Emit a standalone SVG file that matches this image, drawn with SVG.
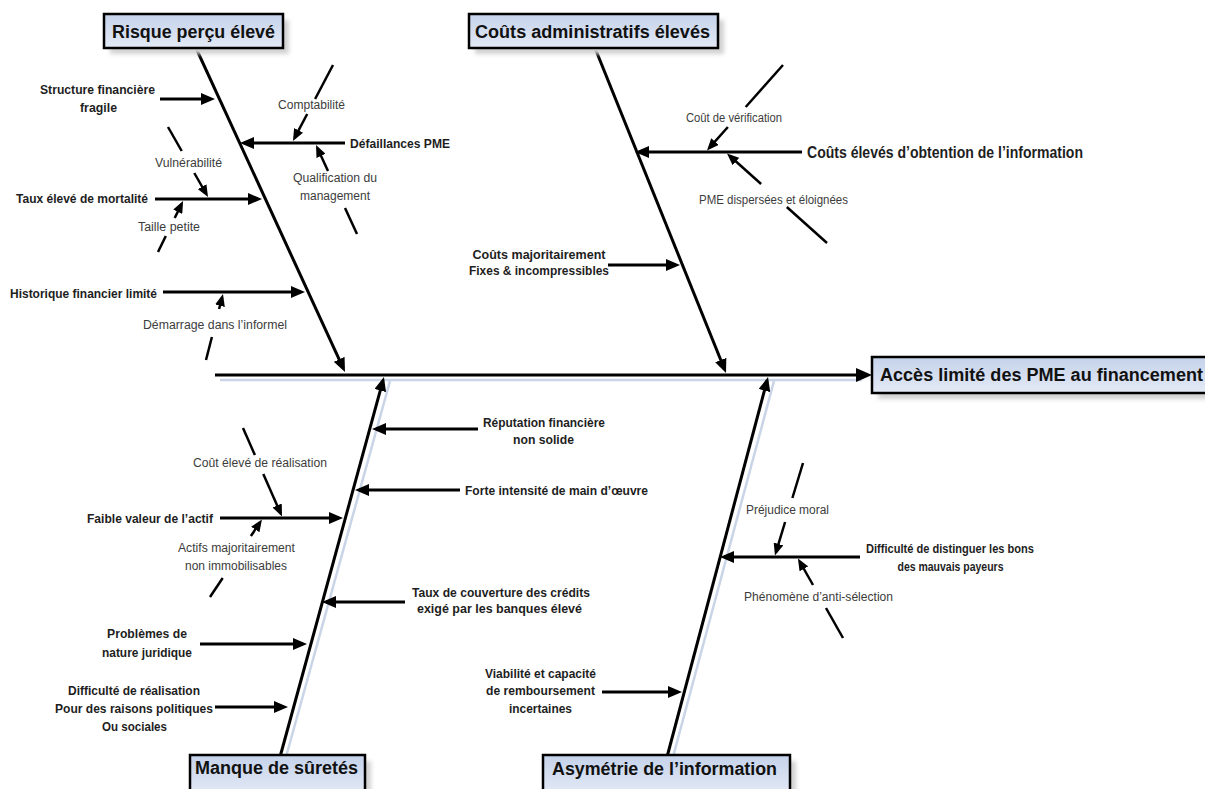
<svg xmlns="http://www.w3.org/2000/svg" width="1205" height="789" viewBox="0 0 1205 789">
  <defs>
    <linearGradient id="bg" x1="0" y1="0" x2="0" y2="1">
      <stop offset="0" stop-color="#c4d2ea"/>
      <stop offset="1" stop-color="#e4eaf6"/>
    </linearGradient>
    <filter id="soft" x="-10%" y="-30%" width="120%" height="160%">
      <feGaussianBlur stdDeviation="2"/>
    </filter>
    <!-- arrowheads: tip sits a few px past the line end so the stroke is hidden -->
    <marker id="ah" markerUnits="userSpaceOnUse" viewBox="0 0 14 12" markerWidth="14" markerHeight="12" refX="10" refY="6" orient="auto">
      <path d="M0,0 L14,6 L0,12 z" fill="#000"/>
    </marker>
    <marker id="ahs" markerUnits="userSpaceOnUse" viewBox="0 0 12 10" markerWidth="12" markerHeight="10" refX="8.5" refY="5" orient="auto">
      <path d="M0,0 L12,5 L0,10 z" fill="#000"/>
    </marker>
    <marker id="ahb" markerUnits="userSpaceOnUse" viewBox="0 0 16 14" markerWidth="16" markerHeight="14" refX="11" refY="7" orient="auto">
      <path d="M0,0 L16,7 L0,14 z" fill="#000"/>
    </marker>
  </defs>
  <style>
    text { font-family: "Liberation Sans", Arial, sans-serif; dominant-baseline: central; }
    .b { font-weight: bold; font-size: 13.5px; fill: #1e1e1e; text-anchor: middle; }
    .n { font-size: 12.5px; fill: #3c3c3c; text-anchor: middle; }
    .t { font-weight: bold; font-size: 18px; fill: #111; text-anchor: middle; }
    .bone { stroke: #000; stroke-width: 3; fill: none; marker-end: url(#ah); }
    .arr { stroke: #000; stroke-width: 3; marker-end: url(#ah); }
    .sub { stroke: #000; stroke-width: 2.5; }
    .subh { stroke: #000; stroke-width: 2.5; marker-end: url(#ahs); }
    .shd { stroke: #c9d4e6; stroke-width: 2.5; }
    .box { fill: url(#bg); stroke: #000; stroke-width: 2.5; }
    .boxshadow { fill: #d2d2d2; filter: url(#soft); }
  </style>

  <rect width="1205" height="789" fill="#fff"/>

  <!-- spine and main bones -->
  <g id="connectors">
    <g id="shadows">
      <line class="shd" x1="220" y1="380" x2="862" y2="380"/>
      <line class="shd" x1="286" y1="757" x2="390" y2="381"/>
      <line class="shd" x1="673" y1="757" x2="774" y2="381"/>
    </g>
    <line id="spine" x1="215" y1="375" x2="867" y2="375" stroke="#000" stroke-width="3" marker-end="url(#ahb)"/>
    <line id="bone-risque" class="bone" x1="196" y1="48" x2="343.3" y2="368.4"/>
    <line id="bone-couts" class="bone" x1="595" y1="48" x2="724.5" y2="369.3"/>
    <line id="bone-suretes" class="bone" x1="280" y1="757" x2="382.9" y2="380.9"/>
    <line id="bone-asym" class="bone" x1="667" y1="757" x2="767" y2="380.9"/>

    <!-- causes feeding the bones -->
    <line class="arr" x1="160" y1="99" x2="211" y2="99"/>
    <line class="arr" x1="345" y1="143" x2="244" y2="143"/>
    <line class="arr" x1="155" y1="199" x2="258" y2="199"/>
    <line class="arr" x1="163" y1="292" x2="301" y2="292"/>
    <line class="arr" x1="802" y1="152" x2="639" y2="152"/>
    <line class="arr" x1="608" y1="265" x2="676" y2="265"/>
    <line class="arr" x1="478" y1="429" x2="376" y2="429"/>
    <line class="arr" x1="460" y1="490" x2="359" y2="490"/>
    <line class="arr" x1="220" y1="518" x2="339" y2="518"/>
    <line class="arr" x1="405" y1="602" x2="326" y2="602"/>
    <line class="arr" x1="200" y1="644" x2="303" y2="644"/>
    <line class="arr" x1="215" y1="707" x2="284" y2="707"/>
    <line class="arr" x1="860" y1="557" x2="724" y2="557"/>
    <line class="arr" x1="602" y1="692" x2="678" y2="692"/>

    <!-- secondary causes, broken where their label sits -->
    <line class="sub" x1="333" y1="65" x2="315.1" y2="99"/>
    <line class="subh" x1="307.2" y1="114" x2="294.6" y2="137.9"/>

    <line class="sub" x1="357" y1="234" x2="345" y2="208"/>
    <line class="subh" x1="328" y1="171" x2="317.5" y2="148.2"/>

    <line class="sub" x1="168" y1="127" x2="181.7" y2="151"/>
    <line class="subh" x1="194.3" y1="173" x2="206.3" y2="194"/>

    <line class="sub" x1="158" y1="252" x2="165.8" y2="236"/>
    <line class="subh" x1="174.7" y1="218" x2="181.5" y2="204.1"/>

    <line class="sub" x1="206" y1="360" x2="211.9" y2="337"/>
    <line class="subh" x1="219.1" y1="309" x2="222.1" y2="297.4"/>

    <line class="sub" x1="783" y1="65" x2="745.7" y2="107"/>
    <line class="subh" x1="727.9" y1="127" x2="709.3" y2="147.9"/>

    <line class="sub" x1="827" y1="243" x2="786.8" y2="207"/>
    <line class="subh" x1="761.1" y1="184" x2="729.6" y2="155.8"/>

    <line class="sub" x1="243" y1="428" x2="254.9" y2="455"/>
    <line class="subh" x1="263.3" y1="474" x2="280.6" y2="513.3"/>

    <line class="sub" x1="210" y1="597" x2="222.7" y2="578"/>
    <line class="subh" x1="250.9" y1="536" x2="260" y2="522.4"/>

    <line class="sub" x1="803" y1="463" x2="792.4" y2="498"/>
    <line class="subh" x1="785.1" y1="522" x2="776" y2="552.1"/>

    <line class="sub" x1="843" y1="638" x2="826" y2="608"/>
    <line class="subh" x1="813" y1="585" x2="799.7" y2="561.5"/>
  </g>

  <!-- category boxes -->
  <g id="risque">
    <rect class="boxshadow" x="110" y="20" width="179" height="34"/>
    <rect class="box" x="104" y="14" width="179" height="34"/>
    <text class="t" x="193.5" y="32" textLength="163" lengthAdjust="spacingAndGlyphs">Risque perçu élevé</text>
  </g>
  <g id="couts-admin">
    <rect class="boxshadow" x="475" y="20" width="249" height="34"/>
    <rect class="box" x="469" y="14" width="249" height="34"/>
    <text class="t" x="592.5" y="32" textLength="235" lengthAdjust="spacingAndGlyphs">Coûts administratifs élevés</text>
  </g>
  <g id="effet">
    <rect class="boxshadow" x="878" y="363" width="340" height="36"/>
    <rect class="box" x="872" y="357" width="345" height="36"/>
    <text class="t" x="1041.5" y="375" textLength="323" lengthAdjust="spacingAndGlyphs">Accès limité des PME au financement</text>
  </g>
  <g id="suretes">
    <rect class="boxshadow" x="196" y="761" width="175" height="40"/>
    <rect class="box" x="190" y="755" width="175" height="40"/>
    <text class="t" x="276.5" y="768" textLength="163" lengthAdjust="spacingAndGlyphs">Manque de sûretés</text>
  </g>
  <g id="asymetrie">
    <rect class="boxshadow" x="549" y="761" width="247" height="40"/>
    <rect class="box" x="543" y="755" width="247" height="40"/>
    <text class="t" x="664.5" y="769" textLength="225" lengthAdjust="spacingAndGlyphs">Asymétrie de l’information</text>
  </g>

  <!-- cause labels -->
  <g id="labels-risque">
    <text class="b" x="97.5" y="89" textLength="115" lengthAdjust="spacingAndGlyphs">Structure financière</text>
    <text class="b" x="98.5" y="107" textLength="37" lengthAdjust="spacingAndGlyphs">fragile</text>
    <text class="n" x="311.5" y="105" textLength="67" lengthAdjust="spacingAndGlyphs">Comptabilité</text>
    <text class="b" x="400" y="143" textLength="100" lengthAdjust="spacingAndGlyphs">Défaillances PME</text>
    <text class="n" x="188.5" y="163" textLength="67" lengthAdjust="spacingAndGlyphs">Vulnérabilité</text>
    <text class="n" x="335" y="178" textLength="84" lengthAdjust="spacingAndGlyphs">Qualification du</text>
    <text class="n" x="335" y="196" textLength="70" lengthAdjust="spacingAndGlyphs">management</text>
    <text class="b" x="82" y="198" textLength="132" lengthAdjust="spacingAndGlyphs">Taux élevé de mortalité</text>
    <text class="n" x="169" y="227" textLength="62" lengthAdjust="spacingAndGlyphs">Taille petite</text>
    <text class="b" x="83.5" y="293" textLength="147" lengthAdjust="spacingAndGlyphs">Historique financier limité</text>
    <text class="n" x="215" y="325" textLength="144" lengthAdjust="spacingAndGlyphs">Démarrage dans l’informel</text>
  </g>
  <g id="labels-couts">
    <text class="n" x="734" y="118" textLength="96" lengthAdjust="spacingAndGlyphs">Coût de vérification</text>
    <text class="b" x="945" y="152" style="font-size:16px" textLength="276" lengthAdjust="spacingAndGlyphs">Coûts élevés d’obtention de l’information</text>
    <text class="n" x="773.5" y="200" textLength="149" lengthAdjust="spacingAndGlyphs">PME dispersées et éloignées</text>
    <text class="b" x="539" y="254" textLength="133" lengthAdjust="spacingAndGlyphs">Coûts majoritairement</text>
    <text class="b" x="539" y="270" textLength="140" lengthAdjust="spacingAndGlyphs">Fixes &amp; incompressibles</text>
  </g>
  <g id="labels-suretes">
    <text class="b" x="544" y="422" textLength="122" lengthAdjust="spacingAndGlyphs">Réputation financière</text>
    <text class="b" x="543.5" y="439" textLength="61" lengthAdjust="spacingAndGlyphs">non solide</text>
    <text class="b" x="556.5" y="490" textLength="183" lengthAdjust="spacingAndGlyphs">Forte intensité de main d’œuvre</text>
    <text class="n" x="260" y="463" textLength="134" lengthAdjust="spacingAndGlyphs">Coût élevé de réalisation</text>
    <text class="b" x="150" y="518" textLength="126" lengthAdjust="spacingAndGlyphs">Faible valeur de l’actif</text>
    <text class="n" x="236.5" y="548" textLength="117" lengthAdjust="spacingAndGlyphs">Actifs majoritairement</text>
    <text class="n" x="236" y="566" textLength="102" lengthAdjust="spacingAndGlyphs">non immobilisables</text>
    <text class="b" x="501" y="592" textLength="178" lengthAdjust="spacingAndGlyphs">Taux de couverture des crédits</text>
    <text class="b" x="499.5" y="608" textLength="165" lengthAdjust="spacingAndGlyphs">exigé par les banques élevé</text>
    <text class="b" x="147" y="633" textLength="80" lengthAdjust="spacingAndGlyphs">Problèmes de</text>
    <text class="b" x="147" y="652" textLength="90" lengthAdjust="spacingAndGlyphs">nature juridique</text>
    <text class="b" x="134" y="690" textLength="132" lengthAdjust="spacingAndGlyphs">Difficulté de réalisation</text>
    <text class="b" x="134" y="708" textLength="158" lengthAdjust="spacingAndGlyphs">Pour des raisons politiques</text>
    <text class="b" x="134.5" y="726" textLength="65" lengthAdjust="spacingAndGlyphs">Ou sociales</text>
  </g>
  <g id="labels-asymetrie">
    <text class="n" x="787.5" y="510" textLength="83" lengthAdjust="spacingAndGlyphs">Préjudice moral</text>
    <text class="b" x="950" y="548" textLength="168" lengthAdjust="spacingAndGlyphs">Difficulté de distinguer les bons</text>
    <text class="b" x="950.5" y="566" textLength="106" lengthAdjust="spacingAndGlyphs">des mauvais payeurs</text>
    <text class="n" x="818.5" y="597" textLength="149" lengthAdjust="spacingAndGlyphs">Phénomène d’anti-sélection</text>
    <text class="b" x="540.5" y="673" textLength="111" lengthAdjust="spacingAndGlyphs">Viabilité et capacité</text>
    <text class="b" x="540.5" y="690" textLength="109" lengthAdjust="spacingAndGlyphs">de remboursement</text>
    <text class="b" x="540.5" y="708" textLength="63" lengthAdjust="spacingAndGlyphs">incertaines</text>
  </g>
</svg>
